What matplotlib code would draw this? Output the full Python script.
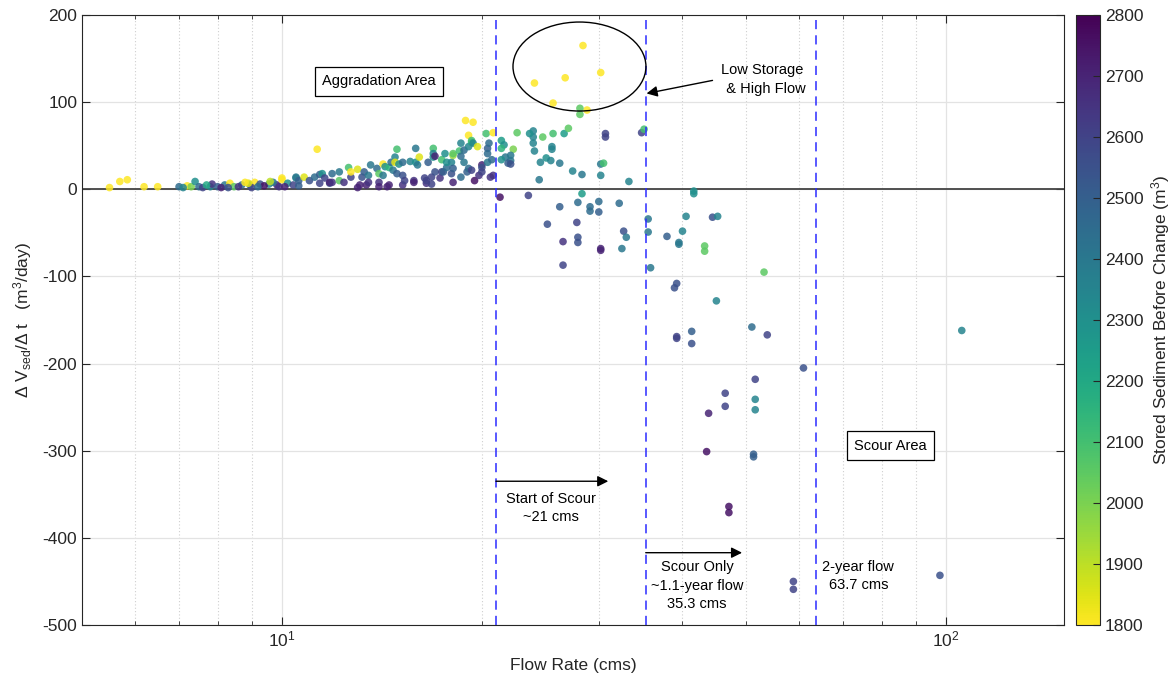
import numpy as np
import matplotlib
matplotlib.use("Agg")
import matplotlib.pyplot as plt
from matplotlib.patches import Ellipse
from matplotlib.ticker import LogLocator, NullFormatter

plt.rcParams['font.family'] = ['Liberation Sans', 'DejaVu Sans']
plt.rcParams['axes.unicode_minus'] = False
plt.rcParams['mathtext.fontset'] = 'custom'
plt.rcParams['mathtext.rm'] = 'Liberation Sans'
plt.rcParams['mathtext.it'] = 'Liberation Sans:italic'

# (flow cms, dV/dt m3/day, stored sediment m3)
low_flow_pts = [
    (5.5, 2, 1800), (5.7, 9, 1800), (5.85, 11, 1800), (6.2, 3, 1800), (6.5, 3, 1800),
    (7.0, 3, 2450), (7.2, 4, 1800), (7.3, 3, 2000), (7.4, 9, 2300), (7.5, 3, 2450),
    (7.8, 3, 2350), (7.85, 6, 2650), (8.0, 3, 2500), (8.2, 5, 2400), (8.35, 7, 1800),
    (8.47, 3, 2050), (8.7, 5, 2450), (8.95, 5, 2350), (9.1, 8, 1800), (9.27, 6, 2550),
    (9.56, 6, 2350), (9.83, 5, 2700), (10.0, 11, 1800), (10.2, 7, 2300),
    (7.6, 2, 2600), (8.1, 2, 2700), (8.6, 3, 2650), (9.0, 2, 2600), (9.4, 4, 2750),
    (9.7, 8, 2400), (8.9, 7, 1850), (7.7, 5, 2200), (9.2, 3, 2450), (9.9, 3, 2650),
    (8.3, 2, 2550), (7.1, 2, 2350), (9.6, 9, 1900), (8.8, 8, 1800), (10.1, 3, 2700),
    (10.4, 5, 2600), (10.6, 4, 2500),
]

mid_flow_pts = [
    (10.0, 13, 1800), (10.5, 13, 2350), (10.5, 14, 2400), (10.6, 10, 2500), (10.8, 14, 1850),
    (11.0, 10, 2550), (11.2, 14, 2450), (11.3, 46, 1800), (11.4, 7, 2600), (11.4, 17, 2500),
    (11.5, 18, 2300), (11.6, 13, 2600), (11.8, 7, 2550), (11.8, 8, 2700), (11.9, 18, 2450),
    (11.9, 8, 2650), (12.2, 20, 2400), (12.2, 10, 2050), (12.4, 8, 2650), (12.6, 25, 2100),
    (12.7, 14, 2600), (12.7, 20, 1800), (13.0, 23, 1850), (13.0, 2, 2700), (13.1, 5, 2700),
    (13.2, 14, 2550), (13.3, 20, 2500), (13.4, 5, 2700), (13.5, 16, 2400), (13.5, 8, 2650),
    (13.6, 28, 2400), (13.9, 24, 2450), (14.0, 18, 2050), (14.0, 8, 2650), (14.0, 3, 2700),
    (14.2, 29, 1800), (14.2, 16, 2400), (14.3, 26, 2300), (14.4, 3, 2700), (14.5, 25, 2150),
    (14.5, 5, 2700), (14.6, 31, 2450), (14.7, 22, 2400), (14.8, 37, 2350), (14.8, 31, 1850),
    (14.9, 46, 2100), (14.9, 18, 2500), (15.0, 29, 2300), (15.2, 31, 2450), (15.2, 16, 2550),
    (15.2, 5, 2650), (15.3, 10, 2600), (15.6, 32, 2350), (15.8, 10, 2650), (15.8, 8, 2700),
    (15.9, 47, 2400), (15.9, 31, 2300), (16.0, 28, 2400), (16.1, 37, 1850), (16.4, 13, 2600),
    (16.5, 7, 2650), (16.5, 10, 2600), (16.6, 31, 2500), (16.8, 14, 2600), (16.8, 6, 2600),
    (16.9, 47, 2100), (16.9, 41, 2350), (16.9, 37, 2300), (17.0, 38, 2700), (17.0, 20, 2550),
    (17.3, 13, 2650), (17.4, 34, 2100), (17.4, 20, 2600), (17.5, 20, 2500), (17.6, 41, 2300),
    (17.7, 25, 2450), (17.7, 31, 2300), (18.0, 31, 2350), (18.0, 18, 2550), (18.1, 39, 1950),
    (18.1, 41, 2050), (18.1, 24, 2500), (18.1, 8, 2700), (18.5, 44, 2100), (18.6, 53, 2350),
    (18.6, 38, 2450), (18.6, 14, 2450), (18.8, 45, 2450), (18.8, 31, 2400), (18.9, 79, 1800),
    (19.0, 20, 2500), (19.1, 62, 1800), (19.1, 49, 2350), (19.1, 24, 2450), (19.3, 54, 2200),
    (19.3, 56, 2100), (19.3, 22, 2600), (19.4, 77, 1800), (19.4, 53, 2350), (19.5, 10, 2750),
    (19.7, 49, 1850), (19.8, 16, 2650), (20.0, 28, 2700), (20.0, 25, 2550), (20.0, 20, 2600),
    (20.3, 64, 2100), (20.4, 47, 2500), (20.4, 41, 2450), (20.4, 31, 2400), (20.5, 53, 2450),
    (20.6, 14, 2650), (20.7, 34, 2450), (20.8, 65, 1800), (20.8, 16, 2650),
    (21.4, 56, 2250), (21.6, 51, 2300), (21.4, 47, 2150), (22.3, 46, 2000), (22.6, 65, 2050),
    (23.9, 67, 2350), (23.9, 60, 2350), (23.9, 53, 2350), (24.7, 60, 2050), (25.6, 64, 2100),
    (26.6, 64, 2250), (27.0, 70, 2050), (25.5, 49, 2350), (25.5, 46, 2350), (24.0, 44, 2350),
    (25.0, 36, 2300), (25.4, 33, 2350), (24.5, 31, 2350), (26.2, 30, 2400), (27.4, 21, 2350),
    (28.3, 17, 2400), (30.2, 29, 2400), (30.5, 30, 2100), (30.2, 16, 2350), (30.7, 64, 2600),
    (30.7, 60, 2600), (34.8, 65, 2600), (35.1, 69, 2100), (33.3, 9, 2350), (24.4, 11, 2400),
    (22.1, 39, 2400), (22.1, 33, 2400), (21.7, 37, 2400), (21.4, 34, 2300), (21.9, 30, 2500),
    (22.1, 29, 2550), (23.6, 64, 2300),
]

# low storage, high flow
circled_pts = [
    (28.4, 165, 1800), (24.0, 122, 1800), (26.7, 128, 1800), (30.2, 134, 1800),
    (25.6, 99, 1800), (28.8, 91, 1800), (28.1, 93, 2050), (28.1, 86, 2050),
]

scour_pts = [
    (21.3, -9, 2750), (23.5, -7, 2600), (28.3, -5, 2250), (26.2, -20, 2500), (27.9, -15, 2450),
    (29.1, -20, 2450), (29.1, -25, 2450), (30.0, -14, 2450), (30.0, -26, 2500), (32.2, -16, 2450),
    (25.1, -40, 2550), (27.8, -38, 2600), (32.7, -48, 2550), (33.0, -55, 2400), (35.6, -34, 2400),
    (35.6, -49, 2400), (26.5, -60, 2650), (27.9, -55, 2550), (27.9, -61, 2550), (30.2, -68, 2700),
    (30.2, -70, 2700), (32.5, -68, 2400), (26.5, -87, 2600), (35.9, -90, 2400),
    (41.7, -2, 2300), (41.7, -5, 2300), (40.6, -31, 2350), (44.5, -32, 2550), (45.3, -31, 2350),
    (38.0, -54, 2500), (39.6, -61, 2400), (39.6, -63, 2400), (40.1, -48, 2350), (43.3, -65, 2050),
    (43.3, -71, 2050), (53.2, -95, 2050), (39.3, -108, 2550), (39.0, -113, 2550), (45.1, -128, 2350),
    (51.0, -158, 2450), (53.8, -167, 2600), (39.3, -169, 2600), (39.3, -171, 2600), (41.4, -163, 2500),
    (41.4, -177, 2550), (61.0, -205, 2550), (51.6, -218, 2600), (46.5, -234, 2600), (51.6, -241, 2350),
    (46.5, -249, 2600), (51.6, -253, 2350), (43.9, -257, 2700), (43.6, -301, 2750), (51.3, -304, 2500),
    (51.3, -307, 2500), (47.1, -364, 2750), (47.1, -371, 2750), (105.6, -162, 2350), (97.9, -443, 2550),
    (58.9, -450, 2600), (58.9, -459, 2600),
]

scour_start = 21.0
scour_only = 35.3
two_year = 63.7

pts = np.array(low_flow_pts + mid_flow_pts + circled_pts + scour_pts, dtype=float)
flow, dvdt, stored = pts[:, 0], pts[:, 1], pts[:, 2]

fig = plt.figure(figsize=(11.75, 6.81), dpi=100)
ax = fig.add_axes([0.0698, 0.0822, 0.8357, 0.8957])
cax = fig.add_axes([1076 / 1175, 0.0822, 24 / 1175, 0.8957])

ax.set_xscale('log')
ax.set_xlim(5.0, 150.5)
ax.set_ylim(-500, 200)

ax.grid(True, which='major', color='#e3e3e3', lw=0.9, zorder=0)
ax.xaxis.grid(True, which='minor', color='#cfcfcf', ls=(0, (1, 2)), lw=0.8, zorder=0)
ax.set_axisbelow(True)

sc = ax.scatter(flow, dvdt, c=stored, cmap='viridis_r', vmin=1800, vmax=2800,
                s=30, alpha=0.85, linewidths=0, zorder=3)

ax.axhline(0, color='#444444', lw=1.3, zorder=2)
for q in (scour_start, scour_only, two_year):
    ax.axvline(q, color='#2b2bff', lw=1.1, ls=(0, (6, 4)), zorder=4)

ax.set_yticks(np.arange(-500, 201, 100))
ax.xaxis.set_minor_locator(LogLocator(base=10, subs=np.arange(2, 10)))
ax.xaxis.set_minor_formatter(NullFormatter())
ax.tick_params(which='both', direction='in', top=True, right=True, colors='#262626',
               labelsize=12.5)
ax.tick_params(which='major', length=6)
ax.tick_params(which='minor', length=3)
for sp in ax.spines.values():
    sp.set_color('#262626')
    sp.set_linewidth(0.8)

ax.set_xlabel('Flow Rate (cms)', fontsize=12.5, color='#262626', labelpad=6)
ax.set_ylabel(r'$\Delta$ V$_{\mathrm{sed}}$/$\Delta$ t   (m$^3$/day)', fontsize=12.5,
              color='#262626', labelpad=6)

# boxed area labels
box = dict(boxstyle='square,pad=0.5', fc='white', ec='black', lw=0.9)
ax.text(14.0, 124, 'Aggradation Area', fontsize=10.5, ha='center', va='center', bbox=box, zorder=6)
ax.text(82.5, -294, 'Scour Area', fontsize=10.5, ha='center', va='center', bbox=box, zorder=6)

ax.add_patch(Ellipse((0.5066, 0.9156), 0.1354, 0.1459, transform=ax.transAxes,
                     fill=False, ec='black', lw=1.0, zorder=5))

arrow = dict(arrowstyle='-|>', color='black', lw=1.0, mutation_scale=16, shrinkA=0, shrinkB=0)
ax.annotate('', xy=(35.4, 110), xytext=(44.5, 125), arrowprops=arrow, zorder=6)
ax.text(52.8, 126, 'Low Storage\n  & High Flow', fontsize=10.5, ha='center', va='center', linespacing=1.4)

ax.annotate('', xy=(31.0, -335), xytext=(scour_start, -335), arrowprops=arrow, zorder=6)
ax.text(25.4, -366, 'Start of Scour\n~21 cms', fontsize=10.5, ha='center', va='center', linespacing=1.4)

ax.annotate('', xy=(49.3, -417), xytext=(scour_only, -417), arrowprops=arrow, zorder=6)
ax.text(42.2, -455, 'Scour Only\n~1.1-year flow\n35.3 cms', fontsize=10.5, ha='center',
        va='center', linespacing=1.4)

ax.text(73.8, -444, '2-year flow\n63.7 cms', fontsize=10.5, ha='center', va='center', linespacing=1.4)

cb = fig.colorbar(sc, cax=cax)
cb.solids.set_alpha(1)
cb.set_ticks(np.arange(1800, 2801, 100))
cb.ax.tick_params(direction='in', length=5, labelsize=12.5, colors='#262626')
cb.outline.set_edgecolor('#262626')
cb.outline.set_linewidth(0.8)
cb.set_label('Stored Sediment Before Change (m$^3$)', fontsize=12.5, color='#262626', labelpad=4)

fig.savefig('out.png', dpi=100)
